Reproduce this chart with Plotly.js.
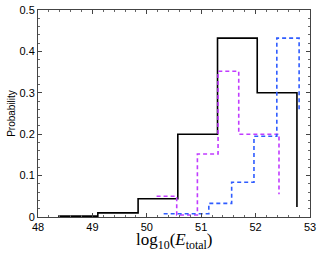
<!DOCTYPE html>
<html>
<head>
<script src="https://cdn.plot.ly/plotly-3.0.1.min.js"></script>
<style>html,body{margin:0;padding:0;background:#fff;}</style>
</head>
<body>
<div id="chart" style="width:319px;height:253px;"></div>
<script>
// Bin left edges (last entry = right edge of final bin) and probabilities
const blackEdges = [48.37, 49.10, 49.84, 50.57, 51.30, 52.03, 52.76];
const blackProb  = [0.002, 0.010, 0.044, 0.200, 0.432, 0.300, 0.024];

const magentaEdges = [50.18, 50.55, 50.93, 51.31, 51.69, 52.06, 52.43];
const magentaProb  = [0.050, 0.005, 0.152, 0.352, 0.200, 0.200, 0.055];

const blueEdges = [50.31, 50.73, 51.14, 51.56, 51.97, 52.39, 52.80];
const blueProb  = [0.008, 0.008, 0.033, 0.084, 0.195, 0.432, 0.260];

const xTicks = [48, 49, 50, 51, 52, 53];
const yTicks = [0, 0.1, 0.2, 0.3, 0.4, 0.5];

const traces = [
  {x: blackEdges, y: blackProb, mode: 'lines', line: {shape: 'hv', color: '#000000', width: 1.6}},
  {x: magentaEdges, y: magentaProb, mode: 'lines', line: {shape: 'hv', color: '#c13cff', width: 1.6, dash: '4px,3px'}},
  {x: blueEdges, y: blueProb, mode: 'lines', line: {shape: 'hv', color: '#2f5cff', width: 1.6, dash: '4px,3px'}}
];

const axisCommon = {
  showline: true, mirror: 'allticks', linecolor: '#444', linewidth: 1,
  ticks: 'inside', ticklen: 4, tickcolor: '#444', tickwidth: 1,
  showgrid: false, zeroline: false,
  tickfont: {family: 'Liberation Sans, Arial, sans-serif', size: 11, color: '#000'}
};

const layout = {
  width: 319, height: 253,
  margin: {l: 38, r: 9, t: 10, b: 36},
  paper_bgcolor: '#fff', plot_bgcolor: '#fff',
  showlegend: false,
  xaxis: Object.assign({}, axisCommon, {
    range: [48, 53], tickvals: xTicks, ticktext: xTicks.map(String),
    minor: {dtick: 0.2, ticks: 'inside', ticklen: 2, tickcolor: '#666', showgrid: false},
    ticklabelstandoff: 0,
    automargin: false
  }),
  yaxis: Object.assign({}, axisCommon, {
    range: [0, 0.5], tickvals: yTicks, ticktext: yTicks.map(v => v === 0 ? '0' : v.toFixed(1)),
    minor: {dtick: 0.02, ticks: 'inside', ticklen: 2, tickcolor: '#666', showgrid: false},
    title: {text: 'Probability', font: {family: 'Liberation Sans, Arial, sans-serif', size: 10, color: '#000'}, standoff: 2},
    automargin: false
  }),
  annotations: [{
    text: 'log<sub>10</sub>(<i>E</i><sub>total</sub>)',
    xref: 'paper', yref: 'paper', x: 0.5, y: -0.175,
    xanchor: 'center', yanchor: 'bottom', showarrow: false, borderpad: 0,
    font: {family: 'Liberation Serif, Times New Roman, serif', size: 17, color: '#000'}
  }]
};

Plotly.newPlot('chart', traces, layout, {staticPlot: true, displayModeBar: false});
</script>
</body>
</html>
